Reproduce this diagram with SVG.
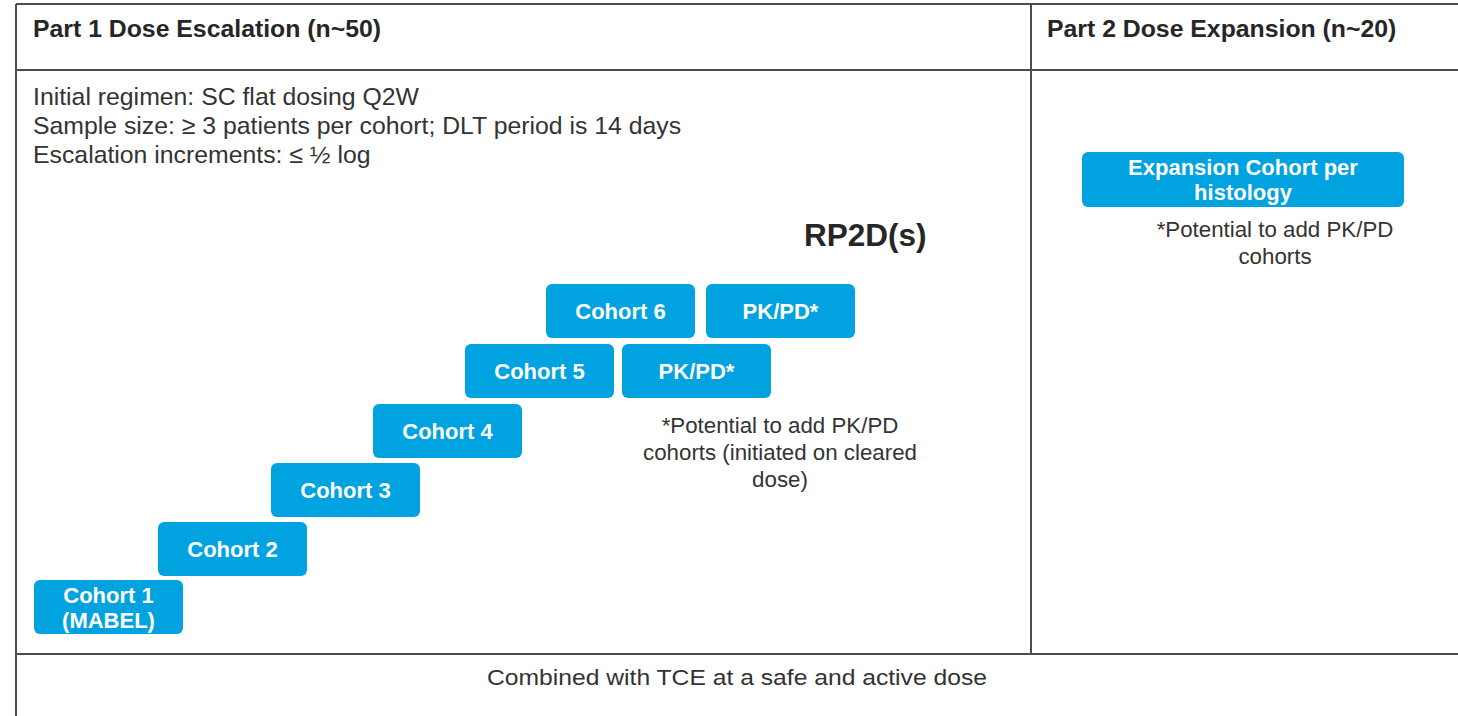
<svg xmlns="http://www.w3.org/2000/svg" width="1458" height="716" viewBox="0 0 1458 716">
<style>
.grid{stroke:#4d4d4d;stroke-width:2;fill:none}
.hdr{font-family:"Liberation Sans",Arial,sans-serif;font-weight:bold;font-size:24.8px;fill:#262626}
.body{font-family:"Liberation Sans",Arial,sans-serif;font-size:24.8px;fill:#333}
.note{font-family:"Liberation Sans",Arial,sans-serif;font-size:22.3px;fill:#333;text-anchor:middle}
.box{fill:#00A3E0}
.lbl{font-family:"Liberation Sans",Arial,sans-serif;font-weight:bold;font-size:22px;fill:#fff;text-anchor:middle}
</style>
<rect width="1458" height="716" fill="#fff"/>
<g id="table" class="grid">
<line x1="16" y1="4" x2="1458" y2="4"/>
<line x1="16" y1="70" x2="1458" y2="70"/>
<line x1="16" y1="654" x2="1458" y2="654"/>
<line x1="16" y1="4" x2="16" y2="716"/>
<line x1="1031" y1="4" x2="1031" y2="654"/>
</g>
<g id="headers">
<text class="hdr" x="33" y="37">Part 1 Dose Escalation (n~50)</text>
<text class="hdr" x="1047" y="37">Part 2 Dose Expansion (n~20)</text>
</g>
<g id="info">
<text class="body" x="33" y="105">Initial regimen: SC flat dosing Q2W</text>
<text class="body" x="33" y="134">Sample size: ≥ 3 patients per cohort; DLT period is 14 days</text>
<text class="body" x="33" y="163">Escalation increments: ≤ ½ log</text>
</g>
<g id="rp2d"><text x="804" y="246" font-family="Liberation Sans,Arial,sans-serif" font-weight="bold" font-size="31.5" fill="#262626">RP2D(s)</text></g>
<g id="cohort1"><rect class="box" x="34" y="580" width="149" height="54" rx="6"/><text class="lbl" x="108.5" y="603">Cohort 1</text><text class="lbl" x="108.5" y="628">(MABEL)</text></g>
<g id="cohort2"><rect class="box" x="158" y="522" width="149" height="54" rx="6"/><text class="lbl" x="232.5" y="557">Cohort 2</text></g>
<g id="cohort3"><rect class="box" x="271" y="463" width="149" height="54" rx="6"/><text class="lbl" x="345.5" y="498">Cohort 3</text></g>
<g id="cohort4"><rect class="box" x="373" y="404" width="149" height="54" rx="6"/><text class="lbl" x="447.5" y="439">Cohort 4</text></g>
<g id="cohort5"><rect class="box" x="465" y="344" width="149" height="54" rx="6"/><text class="lbl" x="539.5" y="379">Cohort 5</text></g>
<g id="pkpd5"><rect class="box" x="622" y="344" width="149" height="54" rx="6"/><text class="lbl" x="696.5" y="379">PK/PD*</text></g>
<g id="cohort6"><rect class="box" x="546" y="284" width="149" height="54" rx="6"/><text class="lbl" x="620.5" y="319">Cohort 6</text></g>
<g id="pkpd6"><rect class="box" x="706" y="284" width="149" height="54" rx="6"/><text class="lbl" x="780.5" y="319">PK/PD*</text></g>
<g id="note1">
<text class="note" x="780" y="433">*Potential to add PK/PD</text>
<text class="note" x="780" y="460">cohorts (initiated on cleared</text>
<text class="note" x="780" y="487">dose)</text>
</g>
<g id="expansion"><rect class="box" x="1082" y="152" width="322" height="55" rx="6"/><text class="lbl" x="1243" y="175" font-size="22.5">Expansion Cohort per</text><text class="lbl" x="1243" y="200" font-size="22.5">histology</text></g>
<g id="note2">
<text class="note" x="1275" y="237">*Potential to add PK/PD</text>
<text class="note" x="1275" y="264">cohorts</text>
</g>
<g id="footer"><text class="note" x="737" y="685" font-size="27" textLength="500" lengthAdjust="spacingAndGlyphs">Combined with TCE at a safe and active dose</text></g>
<g id="connectors"/>
</svg>
